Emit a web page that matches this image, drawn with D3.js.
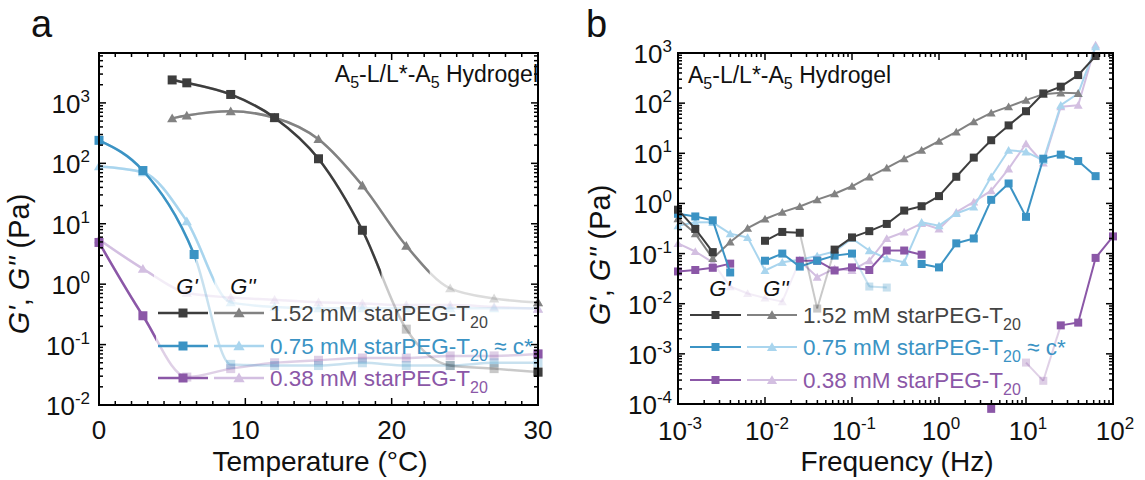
<!DOCTYPE html>
<html>
<head>
<meta charset="utf-8">
<script src="https://cdn.jsdelivr.net/npm/d3@7"></script>
<style>
  body { margin: 0; background: #fff; }
  text { font-family: "Liberation Sans", Arial, sans-serif; }
</style>
</head>
<body>
<svg id="chart" width="1145" height="480"></svg>
<script>
// ---- panel a : temperature sweep (G' squares, G'' triangles) ----
const tempHi = [5, 6, 9, 12, 15, 18, 21, 24, 27, 30]
const tempMid = [0, 3, 6.5, 9, 12, 15, 18, 21, 24, 27, 30]
const tempAll = [0, 3, 6, 9, 12, 15, 18, 21, 24, 27, 30]

const hiGp_a = [2400, 2150, 1380, 570, 119, 7.8, 0.18, 0.045, 0.04, 0.035]
const hiGpp_a = [555, 617, 725, 569, 251, 43, 4.3, 0.85, 0.58, 0.5]
const midGp_a = [240, 76, 3.1, 0.047, 0.045, 0.045, 0.05, 0.045, 0.045, 0.05, 0.05]
const midGpp_a = [89, 71, 11, 0.5, 0.42, 0.4, 0.4, 0.4, 0.4, 0.4, 0.4]
const loGp_a = [4.9, 0.3, 0.029, 0.04, 0.05, 0.055, 0.06, 0.06, 0.065, 0.065, 0.07]
const loGpp_a = [5.5, 1.8, 0.72, 0.6, 0.55, 0.5, 0.48, 0.45, 0.45, 0.42, 0.39]
// temperature above which the data are shown faded (below torque limit)
const fadeFromT = [19.3, 22.6, 6.6, 7.9, 3.9, 3.75]

// ---- panel b : frequency sweep ----
const freqB = [0.001, 0.00158, 0.00251, 0.00398, 0.00631, 0.01, 0.0158, 0.0251, 0.0398, 0.0631,
  0.1, 0.158, 0.251, 0.398, 0.631, 1, 1.58, 2.51, 3.98, 6.31, 10, 15.8, 25.1, 39.8, 63.1, 100]

const hiGp_b = [0.75, 0.31, 0.107, null, null, 0.18, 0.27, 0.26, 0.008, 0.12, 0.21, 0.28, 0.39,
  0.72, 0.88, 1.4, 3.4, 8.2, 18.2, 36, 69, 156, 213, 363, 870, null]
const hiGpp_b = [0.5, 0.25, 0.08, 0.17, 0.32, 0.49, 0.67, 0.87, 1.19, 1.56, 2.2, 3.4, 5.1,
  7.8, 11.5, 17.4, 26.7, 42.7, 64, 85, 115, 151, 161, 157, null, null]
const midGp_b = [0.62, 0.55, 0.46, 0.042, null, 0.072, 0.1, 0.055, 0.072, 0.091, 0.1, 0.022, 0.021,
  null, 0.062, 0.053, 0.16, 0.2, 1.18, 2.5, 0.54, 7.8, 9.4, 7.0, 3.5, null]
const midGpp_b = [0.36, 0.42, 0.42, 0.25, 0.21, 0.046, 0.067, 0.075, 0.09, 0.11, 0.2, 0.115, 0.079,
  0.067, 0.42, 0.36, 0.63, 0.85, 3.4, 11.5, 10.7, 7.2, 91, 156, 1340, null]
const loGp_b = [0.044, 0.047, 0.052, 0.063, null, null, null, 0.072, 0.072, 0.046, 0.053, 0.047, 0.115,
  0.115, 0.095, null, null, null, 8e-5, null, 6.7e-4, 2.9e-4, 3.7e-3, 4.2e-3, 0.082, 0.22]
const loGpp_b = [0.16, 0.11, 0.067, 0.022, 0.016, 0.013, 0.011, 0.072, 0.034, 0.05, 0.046, 0.072, 0.2,
  0.27, 0.4, 0.31, 0.67, 1.07, 1.8, 4.9, 15.5, 6.4, 85, 91, 1450, null]
// indices of faded (unreliable) points in panel b, same order as the series
const fadedIdxB = [[8], [], [11, 12], [], [20, 21], [3, 4, 5, 6]]

const legendLabels = ['1.52 mM starPEG-T', '0.75 mM starPEG-T', '0.38 mM starPEG-T']
const legendSuffix = ['', ' ≈ c*', '']
const yTickExpA = [-2, -1, 0, 1, 2, 3]
const yTickExpB = [-4, -3, -2, -1, 0, 1, 2, 3]
const xTickExpB = [-3, -2, -1, 0, 1, 2]
const xTicksA = [0, 10, 20, 30]

const colGp = ['#3d3d3d', '#3b93c4', '#8b57a7']
const colGpp = ['#828282', '#a9d5ee', '#d3bfe1']
const colText = ['#444', '#3b93c4', '#8b57a7']

const svg = d3.select('#chart')

// helpers
function logMinors (lo, hi) {
  let out = []
  for (let e = Math.floor(Math.log10(lo)); e <= Math.ceil(Math.log10(hi)); e++) {
    for (let m = 2; m <= 9; m++) {
      let v = m * Math.pow(10, e)
      if (v > lo && v < hi) out.push(v)
    }
  }
  return out
}

function frame (box) {
  svg.append('rect')
    .attr('x', box.l).attr('y', box.t)
    .attr('width', box.r - box.l).attr('height', box.b - box.t)
    .attr('fill', 'none').attr('stroke', '#000').attr('stroke-width', 2)
}

function xTickMarks (box, xs, vals, len) {
  vals.forEach(v => {
    let x = xs(v)
    svg.append('line').attr('x1', x).attr('x2', x).attr('y1', box.b).attr('y2', box.b - len)
      .attr('stroke', '#000').attr('stroke-width', 1.5)
    svg.append('line').attr('x1', x).attr('x2', x).attr('y1', box.t).attr('y2', box.t + len)
      .attr('stroke', '#000').attr('stroke-width', 1.5)
  })
}

function yTickMarks (box, ys, vals, len) {
  vals.forEach(v => {
    let y = ys(v)
    svg.append('line').attr('y1', y).attr('y2', y).attr('x1', box.l).attr('x2', box.l + len)
      .attr('stroke', '#000').attr('stroke-width', 1.5)
    svg.append('line').attr('y1', y).attr('y2', y).attr('x1', box.r).attr('x2', box.r - len)
      .attr('stroke', '#000').attr('stroke-width', 1.5)
  })
}

function powLabel (x, y, exp, anchor) {
  let t = svg.append('text').attr('x', x).attr('y', y)
    .attr('font-size', 26).attr('text-anchor', anchor).attr('fill', '#111')
  t.append('tspan').text('10')
  t.append('tspan').attr('dy', -11).attr('font-size', 17).text(exp)
}

function marker (g, type, x, y, col, size) {
  let sym = type === 'sq' ? d3.symbolSquare : d3.symbolTriangle
  let area = type === 'sq' ? size * size : size * size * 0.55
  g.append('path')
    .attr('d', d3.symbol().type(sym).size(area)())
    .attr('transform', `translate(${x},${y + (type === 'sq' ? 0 : 1)})`)
    .attr('fill', col)
}

// ================= panel a =================
const ax = {l: 99, r: 538, t: 53, b: 405}
const xA = d3.scaleLinear().domain([0, 30]).range([ax.l, ax.r])
const yA = d3.scaleLog().domain([1e-2, 6700]).range([ax.b, ax.t])

const seriesA = [
  {t: tempHi, v: hiGp_a, col: colGp[0], type: 'sq'},
  {t: tempHi, v: hiGpp_a, col: colGpp[0], type: 'tri'},
  {t: tempMid, v: midGp_a, col: colGp[1], type: 'sq'},
  {t: tempAll, v: midGpp_a, col: colGpp[1], type: 'tri'},
  {t: tempAll, v: loGp_a, col: colGp[2], type: 'sq'},
  {t: tempAll, v: loGpp_a, col: colGpp[2], type: 'tri'}
]

const lineA = d3.line().x(d => xA(d[0])).y(d => yA(d[1])).curve(d3.curveMonotoneX)
const defs = svg.append('defs')
const gA = svg.append('g')

// draw light (faded) pass first, then opaque pass clipped to the reliable range
const drawOrder = [5, 3, 1, 4, 2, 0]
drawOrder.forEach(i => {
  let s = seriesA[i]
  let pts = s.t.map((t, j) => [t, s.v[j]])
  gA.append('path').datum(pts).attr('d', lineA)
    .attr('fill', 'none').attr('stroke', s.col).attr('stroke-width', 2.5).attr('opacity', 0.28)
  pts.filter(p => p[0] > fadeFromT[i]).forEach(p => {
    let g = gA.append('g').attr('opacity', 0.28)
    marker(g, s.type, xA(p[0]), yA(p[1]), s.col, 9)
  })
})
drawOrder.forEach(i => {
  let s = seriesA[i]
  let pts = s.t.map((t, j) => [t, s.v[j]])
  defs.append('clipPath').attr('id', 'clipA' + i)
    .append('rect').attr('x', 0).attr('y', 0).attr('width', xA(fadeFromT[i])).attr('height', 480)
  gA.append('path').datum(pts).attr('d', lineA).attr('clip-path', 'url(#clipA' + i + ')')
    .attr('fill', 'none').attr('stroke', s.col).attr('stroke-width', 2.5)
  let edgeDark = (i < 2 || i > 3)
  pts.filter(p => p[0] <= fadeFromT[i] || (p[0] === 30 && edgeDark)).forEach(p => {
    marker(gA, s.type, xA(p[0]), yA(p[1]), s.col, 9)
  })
})

frame(ax)
xTickMarks(ax, xA, xTicksA, 7)
xTickMarks(ax, xA, d3.range(0, 30.01, 10 / 9).filter(v => !xTicksA.some(m => Math.abs(m - v) < 0.01)), 4)
yTickMarks(ax, yA, yTickExpA.map(e => Math.pow(10, e)), 7)
yTickMarks(ax, yA, logMinors(1e-2, 6700), 4)

xTicksA.forEach(v => {
  svg.append('text').attr('x', xA(v)).attr('y', 439).attr('text-anchor', 'middle')
    .attr('font-size', 26).attr('fill', '#111').text(v)
})
yTickExpA.forEach(e => powLabel(90, yA(Math.pow(10, e)) + 10, e, 'end'))

svg.append('text').attr('x', 320).attr('y', 471).attr('text-anchor', 'middle')
  .attr('font-size', 28).attr('fill', '#111').text('Temperature (°C)')

// ================= panel b =================
const bx = {l: 678, r: 1113, t: 53, b: 404}
const xB = d3.scaleLog().domain([1e-3, 1e2]).range([bx.l, bx.r])
const yB = d3.scaleLog().domain([1e-4, 1e3]).range([bx.b, bx.t])

const seriesB = [
  {v: hiGp_b, col: colGp[0], type: 'sq'},
  {v: hiGpp_b, col: colGpp[0], type: 'tri'},
  {v: midGp_b, col: colGp[1], type: 'sq'},
  {v: midGpp_b, col: colGpp[1], type: 'tri'},
  {v: loGp_b, col: colGp[2], type: 'sq'},
  {v: loGpp_b, col: colGpp[2], type: 'tri'}
]

const gB = svg.append('g')
const segLine = d3.line().x(d => xB(d[0])).y(d => yB(d[1]))
const orderB = [5, 3, 1, 4, 2, 0]
orderB.forEach(i => {
  let s = seriesB[i]
  let fad = fadedIdxB[i]
  for (let j = 0; j < freqB.length - 1; j++) {
    if (s.v[j] == null || s.v[j + 1] == null) continue
    let faded = fad.includes(j) || fad.includes(j + 1)
    gB.append('path').datum([[freqB[j], s.v[j]], [freqB[j + 1], s.v[j + 1]]])
      .attr('d', segLine).attr('fill', 'none').attr('stroke', s.col)
      .attr('stroke-width', 2).attr('opacity', faded ? 0.28 : 1)
  }
  s.v.forEach((v, j) => {
    if (v == null) return
    let g = gB.append('g').attr('opacity', fad.includes(j) ? 0.28 : 1)
    marker(g, s.type, xB(freqB[j]), yB(v), s.col, 8)
  })
})

frame(bx)
xTickMarks(bx, xB, xTickExpB.map(e => Math.pow(10, e)), 7)
xTickMarks(bx, xB, logMinors(1e-3, 1e2), 4)
yTickMarks(bx, yB, yTickExpB.map(e => Math.pow(10, e)), 7)
yTickMarks(bx, yB, logMinors(1e-4, 1e3), 4)

xTickExpB.forEach(e => powLabel(xB(Math.pow(10, e)) + 2, 440, e, 'middle'))
yTickExpB.forEach(e => powLabel(672, yB(Math.pow(10, e)) + 10, e, 'end'))

svg.append('text').attr('x', 897).attr('y', 471).attr('text-anchor', 'middle')
  .attr('font-size', 28).attr('fill', '#111').text('Frequency (Hz)')

// ================= shared decorations =================
function yTitle (x, y) {
  let t = svg.append('text').attr('transform', `translate(${x},${y}) rotate(-90)`)
    .attr('text-anchor', 'middle').attr('font-size', 29).attr('fill', '#111')
  t.append('tspan').attr('font-style', 'italic').text("G'")
  t.append('tspan').text(', ')
  t.append('tspan').attr('font-style', 'italic').text("G''")
  t.append('tspan').text(' (Pa)')
}
yTitle(29, 264)
yTitle(610, 255)

svg.append('text').attr('x', 31).attr('y', 37).attr('font-size', 38).attr('fill', '#111').text('a')
svg.append('text').attr('x', 586).attr('y', 37).attr('font-size', 38).attr('fill', '#111').text('b')

function hydrogel (x, y, anchor) {
  let t = svg.append('text').attr('x', x).attr('y', y).attr('text-anchor', anchor)
    .attr('font-size', 23).attr('fill', '#111')
  t.append('tspan').text('A')
  t.append('tspan').attr('dy', 6).attr('font-size', 16).text('5')
  t.append('tspan').attr('dy', -6).text('-L/L*-A')
  t.append('tspan').attr('dy', 6).attr('font-size', 16).text('5')
  t.append('tspan').attr('dy', -6).text(' Hydrogel')
}
hydrogel(538, 82, 'end')
hydrogel(688, 83, 'start')

function legend (cfg) {
  svg.append('text').attr('x', cfg.hx[0]).attr('y', cfg.hy).attr('text-anchor', 'middle')
    .attr('font-size', 22).attr('font-style', 'italic').attr('fill', '#111').text("G'")
  svg.append('text').attr('x', cfg.hx[1]).attr('y', cfg.hy).attr('text-anchor', 'middle')
    .attr('font-size', 22).attr('font-style', 'italic').attr('fill', '#111').text("G''")
  cfg.rows.forEach((y, i) => {
    svg.append('line').attr('x1', cfg.l1[0]).attr('x2', cfg.l1[1]).attr('y1', y).attr('y2', y)
      .attr('stroke', colGp[i]).attr('stroke-width', cfg.sw)
    marker(svg, 'sq', (cfg.l1[0] + cfg.l1[1]) / 2, y, colGp[i], cfg.ms)
    svg.append('line').attr('x1', cfg.l2[0]).attr('x2', cfg.l2[1]).attr('y1', y).attr('y2', y)
      .attr('stroke', colGpp[i]).attr('stroke-width', cfg.sw)
    marker(svg, 'tri', (cfg.l2[0] + cfg.l2[1]) / 2, y, colGpp[i], cfg.ms + 1)
    let t = svg.append('text').attr('x', cfg.tx).attr('y', y + 8)
      .attr('font-size', 22.5).attr('fill', colText[i])
    t.append('tspan').text(legendLabels[i])
    t.append('tspan').attr('dy', 7).attr('font-size', 16).text('20')
    if (legendSuffix[i]) t.append('tspan').attr('dy', -7).text(legendSuffix[i])
  })
}
legend({hx: [187, 243], hy: 294, rows: [313, 346, 378], l1: [158, 208], l2: [214, 264], tx: 270, sw: 2.5, ms: 9})
legend({hx: [720, 776], hy: 296, rows: [315, 347, 380], l1: [690, 741], l2: [747, 797], tx: 803, sw: 2, ms: 8})
</script>
</body>
</html>
